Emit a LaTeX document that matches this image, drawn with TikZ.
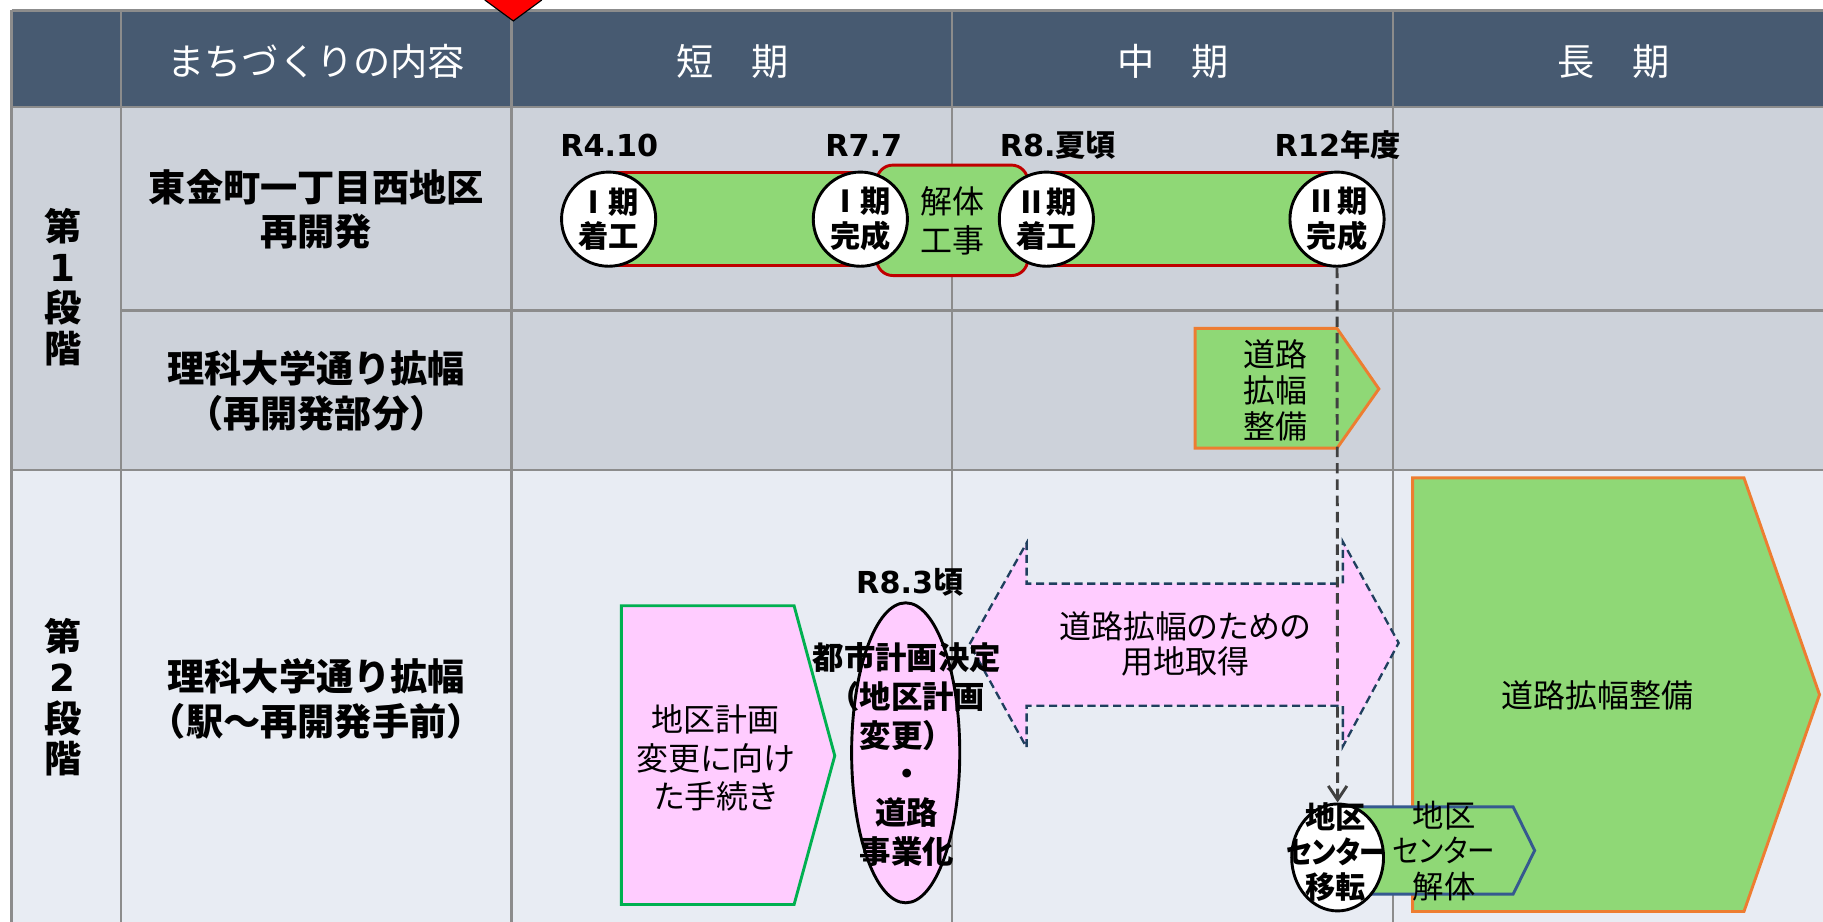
\documentclass[tikz,border=0pt]{standalone}
\usepackage{fontspec}
\setmainfont{Noto Sans CJK JP}
\newfontfamily\jpp[RawFeature=+palt]{Noto Sans CJK JP}
\newfontfamily\lat{DejaVu Sans}
\usetikzlibrary{arrows.meta,shapes.geometric}
\definecolor{hdr}{HTML}{475A71}
\definecolor{sone}{HTML}{CDD2DA}
\definecolor{stwo}{HTML}{E8ECF3}
\definecolor{gridc}{HTML}{8C8C8C}
\definecolor{lgreen}{HTML}{8FD876}
\definecolor{lpink}{HTML}{FFCCFF}
\definecolor{dred}{HTML}{C00000}
\definecolor{orng}{HTML}{ED7D31}
\definecolor{gbord}{HTML}{00B050}
\definecolor{bbord}{HTML}{35598F}
\definecolor{dbord}{HTML}{1F3F5E}
\definecolor{dgray}{HTML}{404040}
\tikzset{
  gridline/.style={draw=gridc,line width=2pt},
  hdrtext/.style={text=white,font=\fontsize{32}{38}\selectfont},
  lbl/.style={align=center,font=\bfseries\fontsize{32}{38.5}\selectfont},
  stagelbl/.style={align=center,font=\bfseries\fontsize{32}{35}\selectfont},
  datelbl/.style={font=\bfseries\fontsize{26}{30}\selectfont,inner sep=0pt},
  circ/.style={circle,draw=black,fill=white,line width=2.5pt,minimum size=81pt,inner sep=0pt,align=center,font=\bfseries\fontsize{26}{30}\selectfont},
  shp/.style={line width=2.5pt,line join=miter},
  body/.style={align=center,inner sep=0pt,font=\jpp\fontsize{27.5}{31}\selectfont},
  bbody/.style={align=center,inner sep=0pt,font=\bfseries\fontsize{27}{33.5}\selectfont},
  ell/.style={ellipse,draw=black,line width=2.5pt,inner sep=0pt},
}
\begin{document}
\begin{tikzpicture}[x=1pt,y=-1pt]
\useasboundingbox (0,0) rectangle (1568,793);
% backgrounds
\fill[hdr] (10,9) rectangle (1568,92);
\fill[sone] (10,92) rectangle (1568,404);
\fill[stwo] (10,404) rectangle (1568,793);
% grid
\draw[gridline] (10,9) -- (1568,9);
\draw[gridline] (10,92) -- (1568,92);
\draw[gridline] (104,267) -- (1568,267);
\draw[gridline] (10,404) -- (1568,404);
\foreach \x in {10,104,440,819,1198} \draw[gridline] (\x,9) -- (\x,793);
% red marker
\fill[red] (417,0) -- (466,0) -- (441.5,18) -- cycle;
\draw[black,line width=1pt] (417,0) -- (441.5,18) -- (466,0);
% header texts
\node[hdrtext] (h0) at (272,53) {まちづくりの内容};
\node[hdrtext] (h1) at (630,53) {短　期};
\node[hdrtext] (h2) at (1009,53) {中　期};
\node[hdrtext] (h3) at (1388,53) {長　期};
% left labels
\node[stagelbl] (st1) at (54,247) {第\\{\lat 1}\\段\\階};
\node[stagelbl] (st2) at (54,600) {第\\{\lat 2}\\段\\階};
\node[lbl] (r1) at (272,180) {東金町一丁目西地区\\再開発};
\node[lbl] (r2) at (272,336) {理科大学通り拡幅\\（再開発部分）};
\node[lbl] (r3) at (272,601) {理科大学通り拡幅\\（駅～再開発手前）};
% row 1 bars
\fill[lgreen] (523.5,148.5) rectangle (740,228.5);
\draw[dred,line width=2.5pt] (523.5,148.5) -- (740,148.5) (523.5,228.5) -- (740,228.5);
\fill[lgreen] (900,148.5) rectangle (1150,228.5);
\draw[dred,line width=2.5pt] (900,148.5) -- (1150,148.5) (900,228.5) -- (1150,228.5);
\draw[shp,draw=dred,fill=lgreen,rounded corners=14pt] (754,142) rectangle (884,237);
\node[body,font=\jpp\fontsize{27.5}{33}\selectfont] (kt) at (819,190) {解体\\工事};
\node[circ] (c1) at (523.5,188.5) {Ⅰ期\\着工};
\node[circ] (c2) at (740,188.5) {Ⅰ期\\完成};
\node[circ] (c3) at (900,188.5) {Ⅱ期\\着工};
\node[circ] (c4) at (1150,188.5) {Ⅱ期\\完成};
\node[datelbl] (d1) at (524,125) {\lat R4.10};
\node[datelbl] (d2) at (743,125) {\lat R7.7};
\node[datelbl] (d3) at (910,125) {{\lat R8.}夏頃};
\node[datelbl] (d4) at (1150.5,125) {{\lat R12}年度};
% row 2 pentagon
\draw[shp,draw=orng,fill=lgreen] (1028,282.5) -- (1150,282.5) -- (1186,334.5) -- (1150,385.5) -- (1028,385.5) -- cycle;
\node[body] (p1t) at (1097,335.5) {道路\\拡幅\\整備};
% stage 2
\draw[shp,draw=gbord,fill=lpink] (534.5,521) -- (683,521) -- (718,650) -- (683,778) -- (534.5,778) -- cycle;
\node[body,font=\jpp\fontsize{27.5}{33}\selectfont] (pkt) at (615.5,652) {地区計画\\変更に向け\\た手続き};
\draw[draw=dbord,fill=lpink,line width=2pt,dash pattern=on 7pt off 4pt,line join=miter] (834,554) -- (883,467) -- (883,502) -- (1155,502) -- (1155,466) -- (1203,553) -- (1155,642) -- (1155,607) -- (883,607) -- (883,643) -- cycle;
\node[body,font=\jpp\fontsize{27.5}{30}\selectfont] (dat) at (1019.5,554) {道路拡幅のための\\用地取得};
\node[ell,fill=lpink,minimum width=93pt,minimum height=258pt] (e1) at (779,647.5) {};
\node[bbody] (e1t) at (780,649) {都市計画決定\\（地区計画\\変更）\\・\\道路\\事業化};
\node[datelbl] (d5) at (782.5,500.5) {{\lat R8.3}頃};
\draw[shp,draw=orng,fill=lgreen] (1215,411) -- (1500,411) -- (1565,597.5) -- (1500,784) -- (1215,784) -- cycle;
\node[body] (bpt) at (1374,598.5) {道路拡幅整備};
\draw[shp,draw=bbord,fill=lgreen] (1150,694) -- (1301.5,694) -- (1320,731.5) -- (1301.5,769) -- (1150,769) -- cycle;
\node[body,font=\jpp\fontsize{27}{30.8}\selectfont] (spt) at (1242,732) {地区\\\scalebox{0.88}[1]{センター}\\解体};
\node[ell,fill=white,minimum width=79pt,minimum height=92pt] (e2) at (1150.5,737.5) {};
\draw[dgray,line width=2.5pt,dash pattern=on 9pt off 5pt,-{Straight Barb[length=12pt,width=16pt]}] (c4.south) -- (e2.north);
\node[bbody,font=\jpp\bfseries\fontsize{26}{30}\selectfont] (e2t) at (1149,733) {地区\\\scalebox{0.88}[1]{センター}\\移転};
\end{tikzpicture}
\end{document}
